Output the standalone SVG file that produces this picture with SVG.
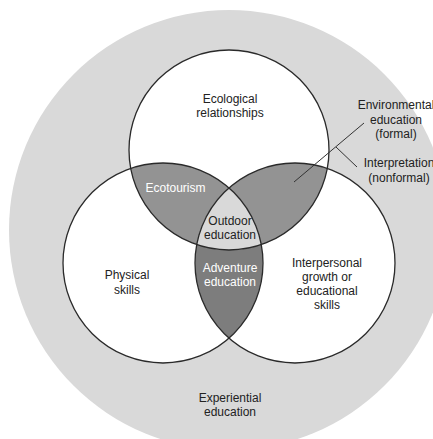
<svg xmlns="http://www.w3.org/2000/svg" width="433" height="439" viewBox="0 0 433 439">
<style>
.lbl{font-family:"Liberation Sans",Arial,sans-serif;font-size:12px;fill:#222;text-anchor:middle}
.wlbl{font-family:"Liberation Sans",Arial,sans-serif;font-size:12px;fill:#fff;text-anchor:middle}
.ring{fill:none;stroke:#2a2a2a;stroke-width:1.3}
.disc{fill:#fff}
.lens{fill:#939393}
.adv{fill:#7d7d7d}
.core{fill:#d9d9d9}
.lead{stroke:#333;stroke-width:1;fill:none}
</style>
<rect width="433" height="439" fill="#fff"/>
<g id="experiential">
<circle cx="229" cy="230" r="220" fill="#d9d9d9"/>
<text class="lbl" x="230" y="402">Experiential</text>
<text class="lbl" x="230" y="416">education</text>
</g>
<g id="discs">
<circle class="disc" cx="229" cy="150" r="100"/>
<circle class="disc" cx="163" cy="263" r="100"/>
<circle class="disc" cx="295" cy="263" r="100"/>
</g>
<g id="ecotourism">
<path class="lens" d="M130.7,168.4 A100,100 0 0 1 229,188 A100,100 0 0 0 196.7,244.6 A100,100 0 0 1 130.7,168.4 Z"/>
<text class="wlbl" x="175.5" y="192">Ecotourism</text>
</g>
<g id="ecology-interpersonal">
<path class="lens" d="M327.3,168.4 A100,100 0 0 0 229,188 A100,100 0 0 1 261.3,244.6 A100,100 0 0 0 327.3,168.4 Z"/>
</g>
<g id="adventure">
<path class="adv" d="M196.7,244.6 A100,100 0 0 0 261.3,244.6 A100,100 0 0 1 229,338 A100,100 0 0 1 196.7,244.6 Z"/>
<text class="wlbl" x="230" y="272">Adventure</text>
<text class="wlbl" x="230" y="286">education</text>
</g>
<g id="outdoor">
<path class="core" d="M229,188 A100,100 0 0 1 261.3,244.6 A100,100 0 0 1 196.7,244.6 A100,100 0 0 1 229,188 Z"/>
<text class="lbl" x="230" y="225">Outdoor</text>
<text class="lbl" x="230" y="239">education</text>
</g>
<g id="ecological">
<circle class="ring" cx="229" cy="150" r="100"/>
<text class="lbl" x="230" y="103">Ecological</text>
<text class="lbl" x="230" y="117">relationships</text>
</g>
<g id="physical">
<circle class="ring" cx="163" cy="263" r="100"/>
<text class="lbl" x="127" y="279">Physical</text>
<text class="lbl" x="127" y="294">skills</text>
</g>
<g id="interpersonal">
<circle class="ring" cx="295" cy="263" r="100"/>
<text class="lbl" x="327" y="267">Interpersonal</text>
<text class="lbl" x="327" y="281">growth or</text>
<text class="lbl" x="327" y="295">educational</text>
<text class="lbl" x="327" y="309">skills</text>
</g>
<g id="environmental">
<text class="lbl" x="396" y="109">Environmental</text>
<text class="lbl" x="396" y="124">education</text>
<text class="lbl" x="396" y="138">(formal)</text>
</g>
<g id="interpretation">
<text class="lbl" x="399" y="167">Interpretation</text>
<text class="lbl" x="399" y="182">(nonformal)</text>
</g>
<g id="connectors">
<line class="lead" x1="294" y1="182" x2="364" y2="123"/>
<line class="lead" x1="336" y1="147" x2="357" y2="167"/>
</g>
</svg>
